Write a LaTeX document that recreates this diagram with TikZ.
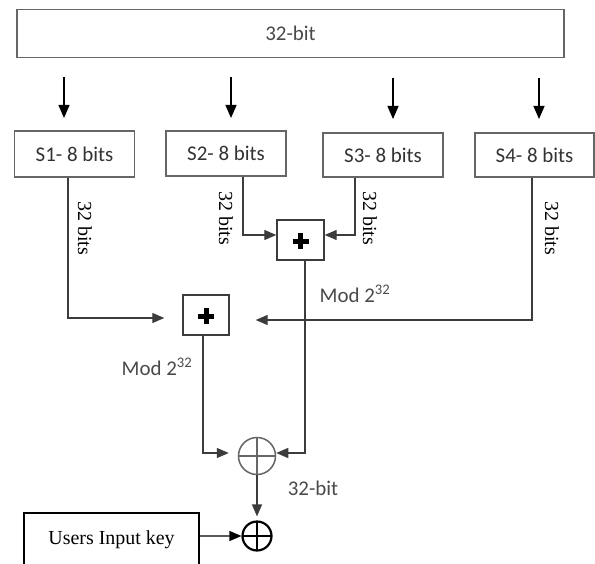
\documentclass[tikz,border=0pt]{standalone}
\usepackage{fontspec}
\setmainfont{Liberation Serif}
\newfontfamily\calfont{Carlito}
\usetikzlibrary{arrows.meta,calc}
\definecolor{boxgray}{HTML}{666666}
\definecolor{txtgray}{HTML}{4a4a4a}
\definecolor{sgray}{HTML}{333333}
\definecolor{linegray}{HTML}{3c3c3c}
\tikzset{
  sanslbl/.style={font=\calfont\fontsize{21}{25}\selectfont, text=txtgray, inner sep=0pt},
  seriflbl/.style={font=\fontsize{20}{24}\selectfont, text=black, inner sep=0pt},
  topbox/.style={draw=boxgray, line width=1.5bp, minimum width=547bp, minimum height=48bp, inner sep=0pt,
    font=\calfont\fontsize{21}{25}\selectfont, text=txtgray},
  sbox/.style={draw=boxgray, line width=1.3bp, minimum width=120bp, minimum height=45bp, inner sep=0pt,
    font=\calfont\fontsize{21}{25}\selectfont, text=sgray},
  plusbox/.style={draw=linegray, line width=1.4bp, minimum width=46bp, minimum height=40bp, inner sep=0pt,
    path picture={
      \draw[line width=5bp, black] ($(path picture bounding box.center)+(-8,1)$) -- ++(16,0);
      \draw[line width=5bp, black] ($(path picture bounding box.center)+(0,-7)$) -- ++(0,16);
    }},
  xorg/.style={circle, draw=boxgray, line width=1.5bp, minimum size=37bp, inner sep=0pt,
    path picture={
      \draw[boxgray, line width=1.5bp] (path picture bounding box.north) -- (path picture bounding box.south);
      \draw[boxgray, line width=1.5bp] (path picture bounding box.west) -- (path picture bounding box.east);
    }},
  xorb/.style={circle, draw=black, line width=2.2bp, minimum size=29bp, inner sep=0pt,
    path picture={
      \draw[black, line width=2.2bp] (path picture bounding box.north) -- (path picture bounding box.south);
      \draw[black, line width=2.2bp] (path picture bounding box.west) -- (path picture bounding box.east);
    }},
  userbox/.style={draw=black, line width=2.4bp, minimum width=175bp, minimum height=54bp, inner sep=0pt,
    font=\fontsize{20}{24}\selectfont},
  conn/.style={draw=linegray, line width=1.3bp, -{Triangle[length=12bp,width=10bp]}},
  downarr/.style={draw=black, line width=1.3bp, -{Triangle[length=13bp,width=11bp]}},
}
\begin{document}
\begin{tikzpicture}[x=1bp,y=-1bp]
\useasboundingbox (0,0) rectangle (595,564);
\clip (0,0) rectangle (595,564);
\fill[white] (0,0) rectangle (595,564);

% top box
\node[topbox] (top) at (290.5,33.5) {32-bit};

% S boxes
\node[sbox, minimum height=46bp] (s1) at (74.5,154) {S1- 8 bits};
\node[sbox] (s2) at (226,153.5) {S2- 8 bits};
\node[sbox, minimum height=44bp] (s3) at (383,155) {S3- 8 bits};
\node[sbox, minimum width=119bp, minimum height=44bp] (s4) at (534.5,155) {S4- 8 bits};

% down arrows between top box and S boxes
\coordinate (a1s) at (64,77);  \coordinate (a1e) at (64,118);
\coordinate (a2s) at (231,77); \coordinate (a2e) at (231,118);
\coordinate (a3s) at (393,78); \coordinate (a3e) at (393,119);
\coordinate (a4s) at (539,78); \coordinate (a4e) at (539,119);
\draw[downarr] (a1s) -- (a1e);
\draw[downarr] (a2s) -- (a2e);
\draw[downarr] (a3s) -- (a3e);
\draw[downarr] (a4s) -- (a4e);

% adders
\node[plusbox] (p1) at (206,315) {};
\node[plusbox, minimum width=47bp] (p2) at (300.5,240) {};

% xor nodes
\node[xorg] (x1) at (257,456) {};
\node[xorb] (x2) at (257,536) {};

% user key
\node[userbox] (user) at (111.5,540) {Users Input key};

% connectors (canvas yshift: positive = up in the picture)
\draw[conn, shorten >=18bp] ([xshift=-6.5bp]s1.south) |- ([yshift=-3bp]p1.west);
\draw[conn, shorten >=26bp] ([xshift=-2.5bp]s4.south) |- ([yshift=-5bp]p1.east);
\draw[conn] ([xshift=17bp]s2.south) |- ([yshift=5bp]p2.west);
\draw[conn] ([xshift=-28bp]s3.south) |- ([yshift=5bp]p2.east);
\draw[conn] ([xshift=4.5bp]p2.south) |- ([yshift=3bp]x1.east);
\draw[conn, shorten >=9bp] ([xshift=-3bp]p1.south) |- ([yshift=3bp]x1.west);
\draw[conn, shorten >=4bp] (x1.south) -- (x2.north);
\draw[conn, draw=black] ([yshift=4bp]user.east) -- (x2.west);

% labels
\node[seriflbl, rotate=-90] (l1) at (85,228) {32 bits};
\node[seriflbl, rotate=-90] (l2) at (226,218) {32 bits};
\node[seriflbl, rotate=-90] (l3) at (370,218) {32 bits};
\node[seriflbl, rotate=-90] (l4) at (552,228) {32 bits};
\node[sanslbl] (m1) at (157,367) {Mod 2\textsuperscript{32}};
\node[sanslbl] (m2) at (355,294) {Mod 2\textsuperscript{32}};
\node[sanslbl] (b32) at (313,488) {32-bit};
\end{tikzpicture}
\end{document}
